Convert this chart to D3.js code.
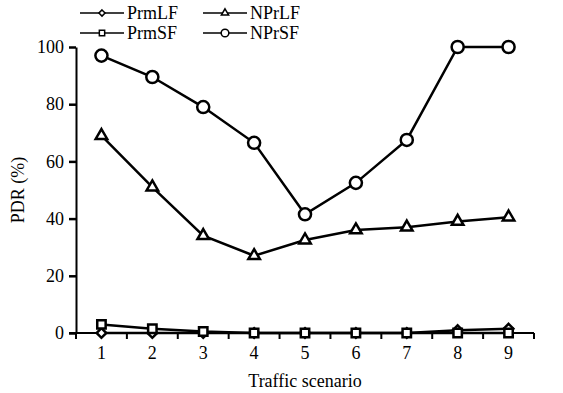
<!DOCTYPE html>
<html>
<head>
<meta charset="utf-8">
<script src="https://cdn.jsdelivr.net/npm/d3@7"></script>
<style>
  body { margin: 0; background: #fff; }
  svg text { font-family: "Liberation Serif", "Times New Roman", Times, "DejaVu Serif", serif; fill: #000; }
</style>
</head>
<body>
<div id="chart"></div>
<script>
// values
var scenarios = [1, 2, 3, 4, 5, 6, 7, 8, 9];
var prmLF = [0, 0, 0, 0, 0, 0, 0, 1, 1.5];
var prmSF = [3, 1.5, 0.5, 0, 0, 0, 0, 0, 0];
var nprLF = [69, 51, 34, 27, 32.5, 36, 37, 39, 40.5];
var nprSF = [97, 89.5, 79, 66.5, 41.5, 52.5, 67.5, 100, 100];
var yTicks = [0, 20, 40, 60, 80, 100];

var serif = '"Liberation Serif", "Times New Roman", Times, "DejaVu Serif", serif';

var series = [
  { name: 'PrmLF', values: prmLF, symbol: d3.symbolDiamond2, size: 60 },
  { name: 'PrmSF', values: prmSF, symbol: d3.symbolSquare2, size: 90 },
  { name: 'NPrLF', values: nprLF, symbol: d3.symbolTriangle2, size: 95 },
  { name: 'NPrSF', values: nprSF, symbol: d3.symbolCircle, size: 115 }
];

var width = 563, height = 393;
var margin = { top: 47, right: 29, bottom: 60, left: 76 };

var svg = d3.select('#chart').append('svg')
  .attr('width', width)
  .attr('height', height);

var x = d3.scaleBand()
  .domain(scenarios)
  .range([margin.left, width - margin.right]);

var y = d3.scaleLinear()
  .domain([0, 100])
  .range([height - margin.bottom, margin.top]);

// x axis: ticks on category boundaries, labels in the middle
var xAxisG = svg.append('g')
  .attr('transform', 'translate(0,' + y(0) + ')');
xAxisG.append('line')
  .attr('x1', margin.left - 7).attr('x2', width - margin.right)
  .attr('stroke', '#000').attr('stroke-width', 2);
var bounds = scenarios.map(function(d) { return x(d); }).concat([x(scenarios[8]) + x.bandwidth()]);
xAxisG.selectAll('line.tick')
  .data(bounds)
  .enter().append('line')
  .attr('class', 'tick')
  .attr('x1', function(d) { return d; }).attr('x2', function(d) { return d; })
  .attr('y1', 0).attr('y2', 6)
  .attr('stroke', '#000').attr('stroke-width', 2);
xAxisG.selectAll('text')
  .data(scenarios)
  .enter().append('text')
  .attr('x', function(d) { return x(d) + x.bandwidth() / 2; })
  .attr('y', 26)
  .attr('text-anchor', 'middle')
  .style('font-size', '18px')
  .style('font-family', serif)
  .text(function(d) { return d; });

// y axis
var yAxis = d3.axisLeft(y).tickValues(yTicks).tickSize(7).tickSizeOuter(0).tickPadding(5);
var yAxisG = svg.append('g')
  .attr('transform', 'translate(' + margin.left + ',0)')
  .attr('font-family', serif)
  .call(yAxis);
yAxisG.select('.domain').attr('stroke-width', 2);
yAxisG.selectAll('.tick line').attr('stroke-width', 2.5);
yAxisG.selectAll('.tick text')
  .style('font-size', '18px')
  .style('font-family', serif);

// axis titles
svg.append('text')
  .attr('transform', 'translate(24,' + ((y(0) + y(100)) / 2) + ') rotate(-90)')
  .attr('text-anchor', 'middle')
  .style('font-size', '18px')
  .style('font-family', serif)
  .text('PDR (%)');

svg.append('text')
  .attr('x', (x.range()[0] + x.range()[1]) / 2)
  .attr('y', 387)
  .attr('text-anchor', 'middle')
  .style('font-size', '18px')
  .style('font-family', serif)
  .text('Traffic scenario');

// lines and markers
var line = d3.line()
  .x(function(d, i) { return x(scenarios[i]) + x.bandwidth() / 2; })
  .y(function(d) { return y(d); });

series.forEach(function(s) {
  svg.append('path')
    .datum(s.values)
    .attr('d', line)
    .attr('fill', 'none')
    .attr('stroke', '#000')
    .attr('stroke-width', 2.5);
});

series.forEach(function(s) {
  svg.append('g').selectAll('path')
    .data(s.values)
    .enter().append('path')
    .attr('transform', function(d, i) {
      return 'translate(' + (x(scenarios[i]) + x.bandwidth() / 2) + ',' + y(d) + ')';
    })
    .attr('d', d3.symbol().type(s.symbol).size(s.size))
    .attr('fill', '#fff')
    .attr('stroke', '#000')
    .attr('stroke-width', 2.5);
});

// legend
var legendPos = [
  { name: 'PrmLF', x: 80, y: 13 },
  { name: 'NPrLF', x: 203, y: 13 },
  { name: 'PrmSF', x: 80, y: 33 },
  { name: 'NPrSF', x: 203, y: 33 }
];
legendPos.forEach(function(p) {
  var s = series.filter(function(d) { return d.name === p.name; })[0];
  var g = svg.append('g').attr('transform', 'translate(' + p.x + ',' + p.y + ')');
  g.append('line')
    .attr('x1', 0).attr('x2', 44)
    .attr('stroke', '#000').attr('stroke-width', 1.5);
  g.append('path')
    .attr('transform', 'translate(22,0)')
    .attr('d', d3.symbol().type(s.symbol).size(s.size * 0.4))
    .attr('fill', '#fff')
    .attr('stroke', '#000')
    .attr('stroke-width', 1.5);
  g.append('text')
    .attr('x', 47)
    .attr('y', 6)
    .style('font-size', '18px')
    .style('font-family', serif)
    .text(s.name);
});
</script>
</body>
</html>
